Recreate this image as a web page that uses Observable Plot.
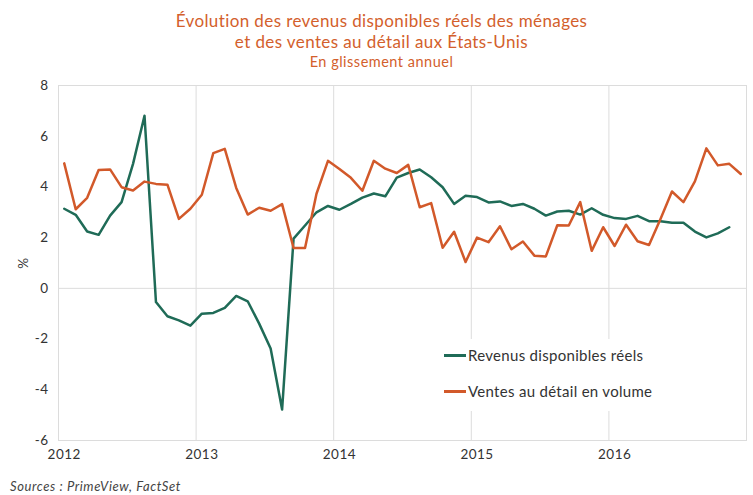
<!DOCTYPE html>
<html><head><meta charset="utf-8">
<script src="https://cdn.jsdelivr.net/npm/d3@7"></script>
<script src="https://cdn.jsdelivr.net/npm/@observablehq/plot@0.6"></script>
<style>
body{margin:0;background:#fff;font-family:Lato, "Open Sans", sans-serif;}
#wrap{position:relative;width:753px;height:495px;overflow:hidden;}
#title{height:70px;box-sizing:border-box;padding-top:10px;padding-left:10px;text-align:center;color:#d3602c;}
.t1{font-size:17px;line-height:21px;letter-spacing:0.4px;}
.t2{font-size:14.5px;line-height:19px;letter-spacing:0.5px;}
#legend{position:absolute;left:440px;top:339px;width:228px;height:72px;background:#fff;}
.item{position:absolute;left:4px;height:20px;display:flex;align-items:center;font-size:15px;letter-spacing:0.3px;color:#333;white-space:nowrap;}
.swatch{display:inline-block;width:22px;height:3px;margin-right:2px;}
#caption{position:absolute;left:10px;top:479px;font-size:13px;letter-spacing:0.6px;font-style:italic;color:#444;line-height:15px;}
</style>
</head><body>
<div id="wrap">
  <div id="title">
    <div class="t1">Évolution des revenus disponibles réels des ménages</div>
    <div class="t1">et des ventes au détail aux États-Unis</div>
    <div class="t2">En glissement annuel</div>
  </div>
  <div id="chart"></div>
  <div id="legend"></div>
  <div id="caption">Sources : PrimeView, FactSet</div>
</div>
<script>
// Monthly series, January 2012 onwards (year-on-year, %)
const years = [2012, 2013, 2014, 2015, 2016];
const yTicks = [-6, -4, -2, 0, 2, 4, 6, 8];
const seriesNames = ["Revenus disponibles réels", "Ventes au détail en volume"];
const seriesColors = ["#1f6b57", "#d2592a"];

const revenus = [
  3.14, 2.90, 2.24, 2.11, 2.87, 3.40, 4.91, 6.81, -0.54, -1.10, -1.26, -1.47,
  -1.00, -0.97, -0.77, -0.30, -0.51, -1.39, -2.37, -4.78, 1.96, 2.48, 3.00, 3.25,
  3.10, 3.33, 3.58, 3.74, 3.63, 4.37, 4.55, 4.69, 4.38, 3.99, 3.33, 3.65,
  3.60, 3.39, 3.43, 3.25, 3.33, 3.14, 2.87, 3.03, 3.06, 2.91, 3.16, 2.90,
  2.77, 2.74, 2.86, 2.65, 2.65, 2.59, 2.59, 2.24, 2.01, 2.17, 2.41
];
const ventes = [
  4.93, 3.12, 3.57, 4.67, 4.69, 3.99, 3.86, 4.21, 4.12, 4.09, 2.74, 3.14,
  3.69, 5.33, 5.50, 3.96, 2.91, 3.18, 3.06, 3.32, 1.59, 1.59, 3.73, 5.03,
  4.71, 4.36, 3.85, 5.03, 4.72, 4.55, 4.87, 3.20, 3.36, 1.60, 2.23, 1.04,
  2.00, 1.82, 2.45, 1.54, 1.85, 1.29, 1.26, 2.49, 2.48, 3.40, 1.48, 2.41,
  1.67, 2.51, 1.86, 1.71, 2.74, 3.82, 3.40, 4.22, 5.52, 4.85, 4.91, 4.51
];

const nMonths = years.length * 12;
const monthPos = (d, i) => i + 0.5;
const yearStart = years.map((y, k) => k * 12);
const gridGray = "#dcdcdc";

const chart = Plot.plot({
  width: 753,
  height: 405,
  marginTop: 15,
  marginBottom: 35,
  marginLeft: 58,
  marginRight: 7,
  style: {fontFamily: "Lato, 'Open Sans', sans-serif", fontSize: "13px", color: "#333", background: "white", overflow: "visible", letterSpacing: "0.5px"},
  x: {domain: [0, nMonths]},
  y: {domain: [yTicks[0], yTicks[yTicks.length - 1]]},
  marks: [
    Plot.ruleX(yearStart.slice(1), {stroke: gridGray}),
    Plot.ruleY([0], {stroke: gridGray}),
    Plot.frame({stroke: gridGray}),
    Plot.axisY(yTicks, {tickSize: 0, tickPadding: 10, tickFormat: d => String(d), fontSize: 13.5,
      label: "%", labelAnchor: "center", labelArrow: "none", labelOffset: 40}),
    Plot.axisX(yearStart.map(p => p + 0.5), {tickSize: 0, tickPadding: 9, fontSize: 13.5,
      tickFormat: d => String(years[Math.floor(d / 12)]), label: null}),
    Plot.line(revenus, {x: monthPos, y: d => d, stroke: seriesColors[0], strokeWidth: 2.5, strokeLinejoin: "round"}),
    Plot.line(ventes, {x: monthPos, y: d => d, stroke: seriesColors[1], strokeWidth: 2.5, strokeLinejoin: "round"})
  ]
});
document.getElementById("chart").appendChild(chart);

const legend = document.getElementById("legend");
seriesNames.forEach((name, k) => {
  const item = document.createElement("div");
  item.className = "item";
  item.style.top = (6 + k * 36) + "px";
  const sw = document.createElement("span");
  sw.className = "swatch";
  sw.style.background = seriesColors[k];
  item.appendChild(sw);
  item.appendChild(document.createTextNode(name));
  legend.appendChild(item);
});
</script>
</body></html>
